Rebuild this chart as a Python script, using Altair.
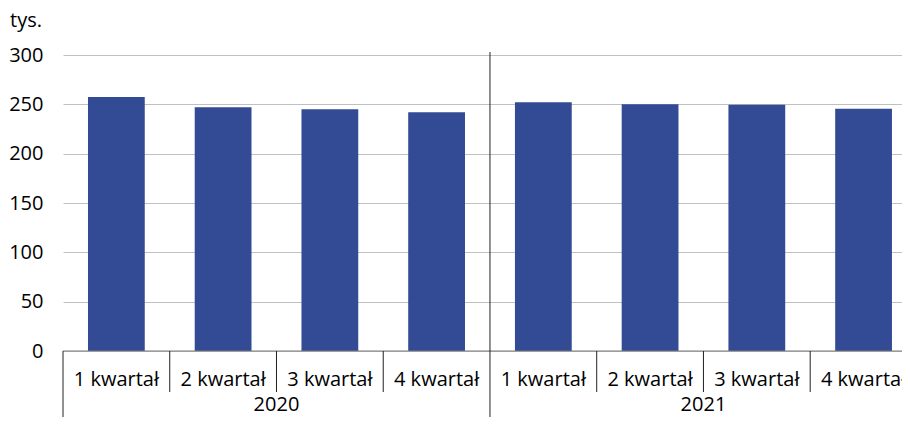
import altair as alt
import pandas as pd

quarters = ["1 kwartał", "2 kwartał", "3 kwartał", "4 kwartał",
            "1 kwartał", "2 kwartał", "3 kwartał", "4 kwartał"]
years = ["2020", "2020", "2020", "2020", "2021", "2021", "2021", "2021"]
values = [257.5, 247.0, 245.0, 242.0, 252.0, 250.0, 249.5, 245.5]
year_labels = ["2020", "2021"]
unit_label = ["tys."]
y_ticks = [0, 50, 100, 150, 200, 250, 300]

W = 839
H = 296
FONT = "Open Sans"
BAR = "#334b94"
SEP = "#222222"

df = pd.DataFrame({"q": quarters, "year": years, "value": values,
                   "idx": list(range(len(values)))})
ydf = pd.DataFrame({"year": year_labels, "g": list(range(len(year_labels)))})
udf = pd.DataFrame({"t": unit_label})

xs = alt.Scale(domain=[0, 7.86], nice=False, zero=False)
ys = alt.Scale(domain=[0, 300], nice=False)

bars = alt.Chart(df).transform_calculate(
    x0="datum.idx + 0.234", x1="datum.idx + 0.766"
).mark_bar(color=BAR).encode(
    x=alt.X("x0:Q", scale=xs, axis=None),
    x2="x1:Q",
    y=alt.Y("value:Q", scale=ys,
            axis=alt.Axis(values=y_ticks, title=None, grid=True)),
    y2=alt.datum(0),
)

zero = alt.Chart(udf).mark_rule(color="#7a7a7a", strokeWidth=1.2).encode(
    y=alt.datum(0)
)

qlabels = alt.Chart(df).transform_calculate(c="datum.idx + 0.5").mark_text(
    font=FONT, fontSize=20, color="black", baseline="middle", align="center"
).encode(x=alt.X("c:Q", scale=xs, axis=None), y=alt.value(H + 29), text="q:N")

inner = alt.Chart(df).transform_filter("datum.idx % 4 != 0").mark_rule(
    color=SEP, strokeWidth=1
).encode(x=alt.X("idx:Q", scale=xs, axis=None), y=alt.value(H), y2=alt.value(H + 41))

groups = alt.Chart(ydf).transform_calculate(b="datum.g * 4").mark_rule(
    color=SEP, strokeWidth=1
).encode(x=alt.X("b:Q", scale=xs, axis=None), y=alt.value(H), y2=alt.value(H + 120))

divider = alt.Chart(ydf).transform_filter("datum.g > 0").transform_calculate(
    b="datum.g * 4"
).mark_rule(color=SEP, strokeWidth=1).encode(
    x=alt.X("b:Q", scale=xs, axis=None), y=alt.value(-3), y2=alt.value(H)
)

ylabels = alt.Chart(ydf).transform_calculate(c="datum.g * 4 + 2").mark_text(
    font=FONT, fontSize=20, color="black", baseline="middle", align="center"
).encode(x=alt.X("c:Q", scale=xs, axis=None), y=alt.value(H + 54), text="year:N")

unit = alt.Chart(udf).mark_text(
    font=FONT, fontSize=20, color="black", baseline="alphabetic", align="left"
).encode(x=alt.value(-53), y=alt.value(-28), text="t:N")

chart = alt.layer(bars, zero, inner, groups, divider, qlabels, ylabels, unit).properties(
    width=W, height=H,
    autosize=alt.AutoSizeParams(type="none"),
    padding={"left": 55, "top": 47, "right": 0, "bottom": 66},
).configure_view(stroke=None).configure_axisY(
    domain=False, ticks=False, labelFont=FONT, labelFontSize=20,
    labelColor="black", labelPadding=20, gridColor="#c0c0c0", gridWidth=1,
)

chart.save("out.html", embed_options={"renderer": "svg", "actions": False})
